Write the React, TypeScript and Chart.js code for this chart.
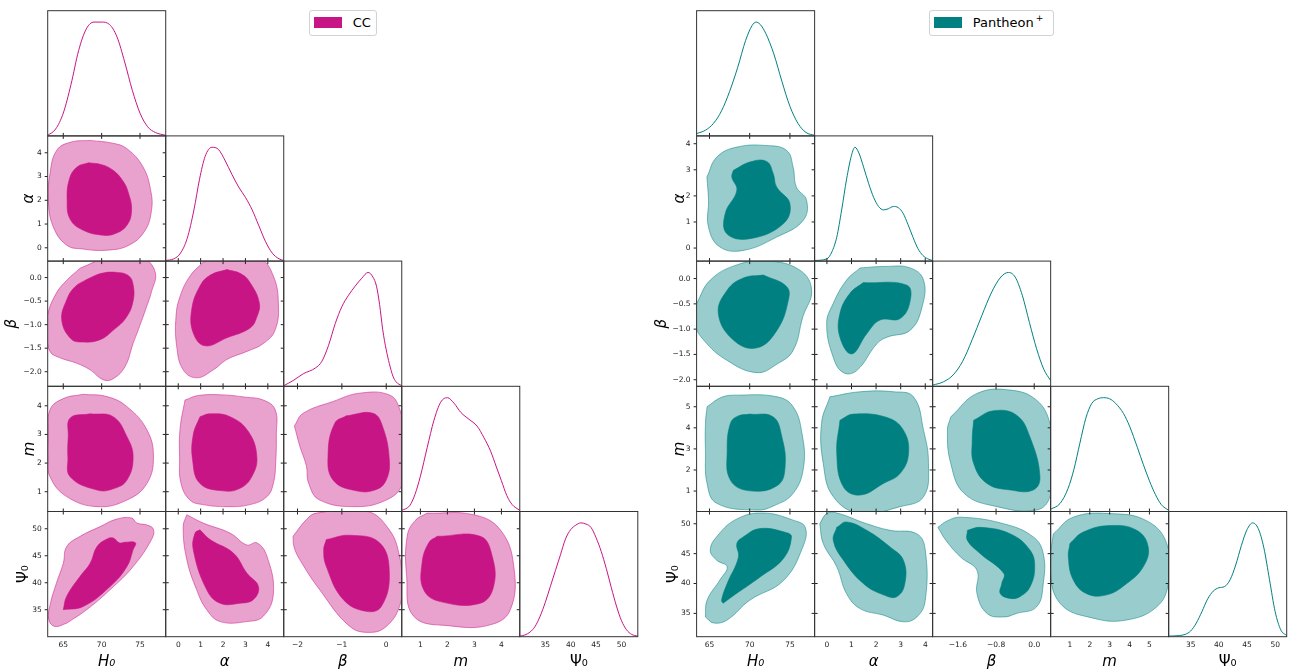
import React, { useEffect, useRef } from "react";
import { Chart, registerables } from "chart.js";

Chart.register(...registerables);

type Pt = [number, number];

// ---------------- labels ----------------
const PARAM_TITLES = ["H₀", "α", "β", "m", "Ψ₀"];
const PARAM_ITALIC = [true, true, true, true, false];
const LEGEND_CC = "CC";
const LEGEND_PP = "Pantheon";
const LEGEND_PP_SUP = "+";

// ---------------- CC : axes ----------------
const CC_RANGES: Pt[] = [[62.97, 78.35], [-0.56, 4.71], [-2.31, 0.35], [0.31, 4.68], [30.0, 53.2]];
const CC_X_TICKS = [[65, 70, 75], [0, 1, 2, 3, 4], [-2, -1, 0], [1, 2, 3, 4], [35, 40, 45, 50]];
const CC_X_LABELS = [["65", "70", "75"], ["0", "1", "2", "3", "4"], ["−2", "−1", "0"], ["1", "2", "3", "4"], ["35", "40", "45", "50"]];
const CC_Y_TICKS = [[65, 70, 75], [0, 1, 2, 3, 4], [-2, -1.5, -1, -0.5, 0], [1, 2, 3, 4], [35, 40, 45, 50]];
const CC_Y_LABELS = [["65", "70", "75"], ["0", "1", "2", "3", "4"], ["−2.0", "−1.5", "−1.0", "−0.5", "0.0"], ["1", "2", "3", "4"], ["35", "40", "45", "50"]];

// ---------------- CC : 1D posteriors ----------------
const CC_H0_PDF: Pt[] = [[62.97, 0.005], [64, 0.06], [65, 0.2], [66, 0.45], [67, 0.75], [68, 0.94], [69, 1.0], [70, 1.0], [71, 0.98], [72, 0.87], [73, 0.65], [74, 0.4], [75, 0.2], [76, 0.08], [77, 0.03], [78.35, 0.005]];
const CC_ALPHA_PDF: Pt[] = [[-0.56, 0.005], [-0.2, 0.02], [0.1, 0.07], [0.4, 0.2], [0.7, 0.45], [0.95, 0.72], [1.2, 0.92], [1.5, 1.0], [1.8, 0.98], [2.1, 0.88], [2.4, 0.76], [2.7, 0.65], [3.0, 0.56], [3.3, 0.45], [3.6, 0.31], [3.9, 0.17], [4.2, 0.07], [4.5, 0.02], [4.71, 0.005]];
const CC_BETA_PDF: Pt[] = [[-2.31, 0.005], [-2.1, 0.05], [-1.87, 0.11], [-1.6, 0.16], [-1.45, 0.22], [-1.3, 0.36], [-1.15, 0.55], [-1.0, 0.7], [-0.85, 0.8], [-0.7, 0.88], [-0.55, 0.95], [-0.41, 1.0], [-0.3, 0.96], [-0.22, 0.88], [-0.15, 0.72], [-0.08, 0.5], [0.0, 0.32], [0.07, 0.2], [0.15, 0.09], [0.22, 0.04], [0.35, 0.005]];
const CC_M_PDF: Pt[] = [[0.31, 0.01], [0.6, 0.05], [0.8, 0.15], [1.0, 0.31], [1.25, 0.56], [1.5, 0.8], [1.75, 0.96], [2.0, 1.0], [2.25, 0.95], [2.5, 0.87], [2.8, 0.81], [3.1, 0.75], [3.35, 0.65], [3.6, 0.53], [3.8, 0.4], [4.0, 0.27], [4.2, 0.14], [4.4, 0.06], [4.68, 0.01]];
const CC_PSI_PDF: Pt[] = [[30, 0.005], [31, 0.015], [32, 0.04], [33, 0.09], [34, 0.18], [35, 0.3], [36, 0.44], [37, 0.58], [38, 0.72], [39, 0.86], [40, 0.94], [41, 0.98], [42, 1.0], [43, 0.99], [44, 0.96], [45, 0.87], [46, 0.75], [47, 0.6], [48, 0.43], [49, 0.27], [50, 0.14], [51, 0.06], [52, 0.02], [53.2, 0.005]];

// ---------------- CC : 2D contours (68% inner, 95% outer) ----------------
const CC_ALPHA_H0_OUT: Pt[] = [[68.5, 4.52], [71.5, 4.4], [73.3, 4.17], [75.4, 3.4], [76.4, 2.4], [76.5, 1.58], [75.6, 0.7], [73.5, 0.1], [70.7, -0.1], [67.5, -0.05], [65.45, 0.11], [63.7, 0.88], [63.05, 2.0], [63.27, 3.12], [64.14, 4.1], [66, 4.45]];
const CC_ALPHA_H0_IN: Pt[] = [[68.3, 3.58], [70, 3.5], [71.5, 3.26], [72.8, 2.8], [73.5, 2.3], [73.9, 1.58], [73.3, 0.95], [71.8, 0.6], [70.2, 0.53], [67.6, 0.74], [65.9, 1.2], [65.5, 2.0], [65.8, 2.9], [66.8, 3.4]];
const CC_BETA_H0_OUT: Pt[] = [[67.2, 0.2], [70.5, 0.42], [73, 0.5], [75.5, 0.42], [77.0, 0.1], [76.5, -0.3], [75.9, -0.6], [74.8, -1.1], [74.1, -1.4], [73.05, -1.89], [71.5, -2.15], [70.2, -2.17], [68.5, -1.96], [66.75, -1.82], [64.5, -1.7], [63.27, -1.57], [62.9, -1.2], [62.95, -0.8], [64.1, -0.33], [65.5, -0.05]];
const CC_BETA_H0_IN: Pt[] = [[68.05, -0.04], [70, 0.09], [72, 0.11], [73.5, 0.04], [74.1, -0.15], [74.1, -0.5], [73.2, -0.85], [71.5, -1.12], [69.8, -1.32], [67.5, -1.37], [66.0, -1.3], [64.8, -0.9], [65.45, -0.47], [66.5, -0.2]];
const CC_M_H0_OUT: Pt[] = [[67.6, 4.4], [70.7, 4.32], [73.3, 3.97], [75.9, 3.16], [76.75, 2.22], [75.9, 1.29], [73.3, 0.71], [69.4, 0.48], [65.45, 0.83], [63.27, 1.52], [63.0, 2.2], [63.05, 2.92], [63.27, 3.86], [65, 4.25]];
const CC_M_H0_IN: Pt[] = [[68.5, 3.72], [71.5, 3.62], [73.3, 2.92], [74.1, 2.22], [73.3, 1.41], [71.5, 1.1], [69.4, 1.06], [65.9, 1.52], [65.6, 2.2], [65.65, 2.92], [65.9, 3.57]];
const CC_PSI_H0_OUT: Pt[] = [[65.45, 32.5], [68.05, 35], [71.1, 38.7], [74.1, 43], [76.5, 48], [76.75, 49.9], [75.9, 50.7], [74.6, 51.05], [73.9, 52.0], [71.97, 51.8], [69.8, 50.4], [67.2, 48.6], [65.45, 46.7], [65.0, 43.6], [64.1, 39.9], [63.3, 36], [63.1, 33.2], [63.9, 31.9]];
const CC_PSI_H0_IN: Pt[] = [[65.0, 35.0], [67.6, 35.6], [71.1, 39.3], [73.3, 43], [74.1, 46.1], [74.4, 47.4], [73.05, 47.5], [72.3, 47.4], [71.5, 48.3], [70.7, 48.1], [69.4, 46.7], [68.5, 43.6], [67.2, 41.2], [65.45, 37.5]];
const CC_BETA_ALPHA_OUT: Pt[] = [[1.12, 0.33], [2.4, 0.45], [3.66, 0.4], [4.25, 0.03], [4.47, -0.54], [4.33, -1.11], [3.8, -1.4], [3.06, -1.57], [2.17, -1.74], [1.57, -1.96], [0.82, -2.13], [0.22, -1.96], [-0.07, -1.46], [-0.1, -0.82], [0.08, -0.4], [0.52, 0.03]];
const CC_BETA_ALPHA_IN: Pt[] = [[2.17, 0.17], [2.8, 0.08], [3.21, -0.11], [3.62, -0.54], [3.5, -0.85], [3.21, -1.07], [2.17, -1.28], [1.19, -1.45], [0.67, -1.18], [0.6, -0.68], [0.97, -0.18], [1.42, 0.05]];
const CC_M_ALPHA_OUT: Pt[] = [[0.3, 4.2], [0.9, 4.36], [2.0, 4.38], [3.0, 4.3], [3.8, 4.2], [4.33, 3.86], [4.38, 3.0], [4.35, 2.0], [4.25, 1.3], [3.96, 0.83], [3.2, 0.55], [2.17, 0.48], [1.1, 0.55], [0.52, 0.71], [0.12, 1.3], [0.06, 2.2], [0.08, 3.2]];
const CC_M_ALPHA_IN: Pt[] = [[0.97, 3.62], [1.42, 3.72], [2.31, 3.62], [3.13, 3.1], [3.51, 2.22], [3.28, 1.52], [2.76, 1.12], [2.01, 1.03], [0.97, 1.29], [0.64, 2.11], [0.67, 3.0]];
const CC_M_BETA_OUT: Pt[] = [[-2.07, 3.3], [-1.87, 3.74], [-1.2, 4.15], [-0.6, 4.44], [0.07, 4.38], [0.3, 3.9], [0.4, 3.0], [0.42, 2.0], [0.35, 1.2], [0.0, 0.71], [-0.67, 0.48], [-1.5, 0.71], [-1.75, 1.3], [-1.8, 1.9], [-1.95, 2.6]];
const CC_M_BETA_IN: Pt[] = [[-0.9, 3.65], [-0.3, 3.74], [-0.08, 3.27], [0.07, 2.11], [0.0, 1.41], [-0.22, 1.08], [-0.67, 1.03], [-1.2, 1.41], [-1.31, 2.34], [-1.16, 3.39]];
const CC_PSI_ALPHA_OUT: Pt[] = [[0.38, 52.6], [1.12, 51.05], [2.31, 49.2], [3.06, 47.0], [3.51, 47.4], [3.96, 44.9], [4.25, 38.1], [3.8, 33.8], [3.06, 32.8], [1.87, 32.8], [1.27, 35.0], [0.82, 38.7], [0.38, 44.3], [0.22, 50.4]];
const CC_PSI_ALPHA_IN: Pt[] = [[0.97, 49.8], [1.42, 48.0], [2.46, 45.5], [3.06, 41.8], [3.58, 39.3], [3.36, 36.9], [2.76, 36.2], [1.87, 36.2], [1.27, 38.7], [0.67, 46.1], [0.75, 49.2]];
const CC_PSI_BETA_OUT: Pt[] = [[-2.1, 48.6], [-1.8, 51.7], [-1.57, 52.9], [-0.45, 53.3], [0.07, 49.8], [0.3, 44.9], [0.35, 40], [0.3, 35.6], [0.0, 31.9], [-0.37, 30.8], [-0.82, 31.9], [-1.5, 38.7], [-1.95, 44.3], [-2.08, 46.7]];
const CC_PSI_BETA_IN: Pt[] = [[-1.35, 48.0], [-0.82, 48.8], [-0.15, 47.4], [0.07, 41.8], [-0.11, 35.6], [-0.45, 34.7], [-0.97, 36.9], [-1.35, 43.0], [-1.41, 46.1]];
const CC_PSI_M_OUT: Pt[] = [[1.25, 52.9], [2.97, 52.6], [3.96, 49.8], [4.46, 43.0], [4.33, 35.0], [3.59, 32.2], [2.11, 32.0], [0.75, 33.8], [0.49, 41.2], [0.51, 48.6], [0.8, 51.5]];
const CC_PSI_M_IN: Pt[] = [[1.62, 48.6], [3.22, 48.6], [3.66, 44.9], [3.71, 39.3], [3.22, 36.2], [1.74, 36.5], [1.12, 38.7], [1.06, 43.6], [1.31, 47.4]];

// ---------------- Pantheon+ : axes ----------------
const PP_RANGES: Pt[] = [[63.4, 78.07], [-0.5, 4.3], [-2.13, 0.345], [0.03, 5.97], [31.1, 52.05]];
const PP_X_TICKS = [[65, 70, 75], [0, 1, 2, 3, 4], [-1.6, -0.8, 0], [1, 2, 3, 4, 5], [35, 40, 45, 50]];
const PP_X_LABELS = [["65", "70", "75"], ["0", "1", "2", "3", "4"], ["−1.6", "−0.8", "0.0"], ["1", "2", "3", "4", "5"], ["35", "40", "45", "50"]];
const PP_Y_TICKS = [[65, 70, 75], [0, 1, 2, 3, 4], [-2, -1.5, -1, -0.5, 0], [1, 2, 3, 4, 5], [35, 40, 45, 50]];
const PP_Y_LABELS = [["65", "70", "75"], ["0", "1", "2", "3", "4"], ["−2.0", "−1.5", "−1.0", "−0.5", "0.0"], ["1", "2", "3", "4", "5"], ["35", "40", "45", "50"]];

// ---------------- Pantheon+ : 1D posteriors ----------------
const PP_H0_PDF: Pt[] = [[63.4, 0.02], [64.5, 0.05], [65.5, 0.11], [66.5, 0.22], [67.5, 0.39], [68.5, 0.6], [69.5, 0.84], [70.3, 0.97], [70.8, 1.0], [71.3, 0.98], [72, 0.9], [73, 0.72], [74, 0.48], [75, 0.26], [76, 0.11], [77, 0.03], [78.07, 0.005]];
const PP_ALPHA_PDF: Pt[] = [[-0.5, 0.005], [0, 0.02], [0.2, 0.08], [0.4, 0.21], [0.6, 0.45], [0.8, 0.72], [1.0, 0.93], [1.14, 1.0], [1.3, 0.95], [1.5, 0.82], [1.7, 0.68], [1.9, 0.56], [2.1, 0.48], [2.3, 0.45], [2.5, 0.46], [2.7, 0.48], [2.9, 0.47], [3.1, 0.42], [3.3, 0.32], [3.5, 0.21], [3.7, 0.11], [3.9, 0.05], [4.1, 0.02], [4.3, 0.005]];
const PP_BETA_PDF: Pt[] = [[-2.13, 0.01], [-1.9, 0.04], [-1.7, 0.1], [-1.5, 0.22], [-1.3, 0.41], [-1.1, 0.62], [-0.9, 0.82], [-0.7, 0.96], [-0.54, 1.0], [-0.4, 0.96], [-0.25, 0.8], [-0.1, 0.56], [0.05, 0.33], [0.2, 0.15], [0.345, 0.05]];
const PP_M_PDF: Pt[] = [[0.03, 0.02], [0.5, 0.07], [0.9, 0.2], [1.2, 0.37], [1.5, 0.6], [1.8, 0.82], [2.1, 0.95], [2.4, 0.99], [2.7, 1.0], [3.0, 0.99], [3.3, 0.95], [3.7, 0.86], [4.0, 0.75], [4.4, 0.56], [4.7, 0.41], [5.0, 0.27], [5.3, 0.15], [5.6, 0.06], [5.97, 0.01]];
const PP_PSI_PDF: Pt[] = [[31.1, 0.005], [33, 0.01], [34, 0.02], [35, 0.05], [36, 0.12], [37, 0.22], [38, 0.33], [39, 0.4], [40, 0.43], [41, 0.44], [42, 0.5], [43, 0.63], [44, 0.8], [45, 0.94], [46, 1.0], [47, 0.95], [48, 0.78], [49, 0.5], [50, 0.22], [51, 0.06], [52.05, 0.01]];

// ---------------- Pantheon+ : 2D contours ----------------
const PP_ALPHA_H0_OUT: Pt[] = [[64.68, 2.72], [65.92, 3.49], [68.4, 3.87], [72.1, 3.93], [74.6, 3.74], [75.4, 3.1], [75.8, 2.34], [77.07, 1.83], [76.65, 1.06], [73.35, 0.42], [69.2, -0.09], [66.3, 0.04], [64.88, 0.8], [64.88, 1.83]];
const PP_ALPHA_H0_IN: Pt[] = [[67.97, 2.98], [70.04, 3.3], [72.1, 3.32], [72.93, 2.85], [73.35, 2.34], [75.0, 1.7], [74.17, 0.93], [70.04, 0.36], [67.16, 0.55], [66.95, 1.32], [68.4, 2.21], [67.78, 2.72]];
const PP_BETA_H0_OUT: Pt[] = [[63.4, -0.49], [65.1, -0.03], [68.4, 0.27], [72.1, 0.35], [76.2, 0.17], [77.7, -0.23], [76.6, -0.76], [75.4, -1.42], [73.4, -1.69], [70.9, -1.86], [67.2, -1.62], [64.3, -1.22], [63.2, -0.89]];
const PP_BETA_H0_IN: Pt[] = [[71.7, 0.07], [74.6, -0.16], [74.8, -0.43], [73.4, -1.02], [70.9, -1.37], [68.0, -1.22], [66.1, -0.69], [67.2, -0.23], [69.2, 0.01]];
const PP_M_H0_OUT: Pt[] = [[64.7, 5.0], [66.5, 5.45], [68.4, 5.55], [73.4, 5.47], [75.4, 5.0], [76.5, 3.73], [76.7, 2.15], [75.4, 0.89], [73, 0.3], [70.9, 0.1], [65.9, 0.42], [64.7, 1.36], [64.5, 2.94], [64.5, 4.2]];
const PP_M_H0_IN: Pt[] = [[70.0, 4.65], [72.9, 4.52], [74.0, 3.57], [74.4, 2.15], [73.5, 1.28], [70.0, 1.01], [67.6, 1.52], [67.2, 2.94], [67.6, 4.21], [68.5, 4.55]];
const PP_PSI_H0_OUT: Pt[] = [[64.5, 34.4], [65.5, 33.4], [67.2, 33.9], [70.0, 37.2], [74.2, 40.5], [76.6, 46.1], [76.9, 49.4], [75.4, 50.6], [71.7, 51.8], [68.4, 50.8], [66, 48], [65.1, 45.6], [65.9, 43.9], [67.2, 42.8], [66.3, 40.6], [64.7, 37.2]];
const PP_PSI_H0_IN: Pt[] = [[66.7, 36.7], [67.8, 37.8], [71.3, 41.1], [74.2, 44.2], [75.2, 47.8], [74.6, 48.5], [71.3, 49.2], [69.2, 47.8], [68.4, 46.7], [68.6, 44.4], [67.2, 40], [66.5, 37.2]];
const PP_BETA_ALPHA_OUT: Pt[] = [[1.35, 0.21], [2.4, 0.24], [3.39, 0.21], [3.93, -0.03], [3.87, -0.56], [3.39, -1.02], [2.44, -1.16], [2.03, -1.29], [1.21, -1.82], [0.67, -1.86], [0.26, -1.56], [-0.01, -0.89], [0.26, -0.49], [0.8, -0.03]];
const PP_BETA_ALPHA_IN: Pt[] = [[1.48, -0.08], [3.25, -0.13], [3.39, -0.43], [2.98, -0.79], [2.16, -0.82], [1.62, -1.09], [1.01, -1.49], [0.53, -1.16], [0.53, -0.69], [0.94, -0.29]];
const PP_M_ALPHA_OUT: Pt[] = [[0.12, 5.47], [1.35, 5.71], [2.71, 5.71], [3.52, 5.47], [3.93, 3.89], [4.13, 2.31], [3.93, 0.73], [2.98, 0.26], [1.35, -0.06], [0.26, 0.73], [-0.15, 2.31], [-0.22, 4.21]];
const PP_M_ALPHA_IN: Pt[] = [[0.53, 4.36], [1.07, 4.65], [2.44, 4.49], [3.11, 3.89], [3.32, 2.79], [2.98, 1.84], [2.3, 1.36], [1.35, 0.81], [0.67, 1.2], [0.4, 2.79]];
const PP_M_BETA_OUT: Pt[] = [[-1.75, 4.52], [-1.2, 5.63], [-0.5, 5.79], [0.05, 5.31], [0.33, 4.21], [0.4, 2.5], [0.33, 0.73], [0.05, 0.1], [-0.78, 0.26], [-1.47, 0.89], [-1.75, 2.31], [-1.82, 3.89]];
const PP_M_BETA_IN: Pt[] = [[-1.27, 4.36], [-0.85, 4.81], [-0.37, 4.6], [-0.09, 3.57], [0.12, 1.68], [-0.02, 1.05], [-0.5, 1.05], [-0.99, 1.36], [-1.27, 2.31], [-1.3, 3.42]];
const PP_PSI_ALPHA_OUT: Pt[] = [[-0.29, 50], [-0.01, 51.7], [0.4, 51.8], [1.62, 50], [2.57, 48.9], [3.66, 48.3], [4.0, 45.6], [4.0, 37.2], [3.66, 34.4], [3.11, 33.6], [2.3, 34.7], [1.35, 35.8], [0.8, 38.3], [0.4, 42.8], [-0.15, 46.7]];
const PP_PSI_ALPHA_IN: Pt[] = [[0.4, 49.4], [0.8, 50.3], [1.62, 48.9], [2.57, 46.1], [3.11, 43.9], [3.17, 40], [2.84, 37.8], [2.3, 38.1], [1.48, 40], [0.67, 43.9], [0.26, 47.2]];
const PP_PSI_BETA_OUT: Pt[] = [[-2.02, 49.4], [-1.82, 50.5], [-1.54, 51.1], [-0.64, 50], [-0.02, 47.8], [0.19, 45], [0.19, 40], [0.05, 36.1], [-0.37, 35], [-0.64, 34.4], [-0.99, 35], [-1.2, 38.3], [-1.2, 42.2], [-1.54, 44.4], [-1.85, 47.2]];
const PP_PSI_BETA_IN: Pt[] = [[-1.4, 48.9], [-1.13, 49.4], [-0.5, 48.3], [-0.09, 45.6], [0.01, 42.8], [-0.09, 39.4], [-0.3, 37.8], [-0.5, 37.5], [-0.71, 38.3], [-0.68, 40], [-0.64, 41.7], [-1.13, 45], [-1.4, 47.2]];
const PP_PSI_M_OUT: Pt[] = [[0.16, 48.3], [1.17, 51.1], [3.02, 51.7], [4.86, 50.5], [5.87, 46.7], [5.95, 40], [5.37, 36.1], [3.86, 33.9], [2.17, 34.2], [0.5, 36.7], [0.0, 42.8]];
const PP_PSI_M_IN: Pt[] = [[1.0, 46.7], [1.67, 48.6], [3.02, 49.7], [4.36, 48.9], [4.94, 46.1], [4.69, 42.8], [3.86, 40], [2.85, 38.1], [1.84, 38.3], [1.17, 40.6], [0.92, 44.4]];

const CC_PDFS = [CC_H0_PDF, CC_ALPHA_PDF, CC_BETA_PDF, CC_M_PDF, CC_PSI_PDF];
const PP_PDFS = [PP_H0_PDF, PP_ALPHA_PDF, PP_BETA_PDF, PP_M_PDF, PP_PSI_PDF];
const CC_CONTOURS: Record<string, Pt[][]> = {
  "1,0": [CC_ALPHA_H0_OUT, CC_ALPHA_H0_IN],
  "2,0": [CC_BETA_H0_OUT, CC_BETA_H0_IN],
  "3,0": [CC_M_H0_OUT, CC_M_H0_IN],
  "4,0": [CC_PSI_H0_OUT, CC_PSI_H0_IN],
  "2,1": [CC_BETA_ALPHA_OUT, CC_BETA_ALPHA_IN],
  "3,1": [CC_M_ALPHA_OUT, CC_M_ALPHA_IN],
  "4,1": [CC_PSI_ALPHA_OUT, CC_PSI_ALPHA_IN],
  "3,2": [CC_M_BETA_OUT, CC_M_BETA_IN],
  "4,2": [CC_PSI_BETA_OUT, CC_PSI_BETA_IN],
  "4,3": [CC_PSI_M_OUT, CC_PSI_M_IN],
};
const PP_CONTOURS: Record<string, Pt[][]> = {
  "1,0": [PP_ALPHA_H0_OUT, PP_ALPHA_H0_IN],
  "2,0": [PP_BETA_H0_OUT, PP_BETA_H0_IN],
  "3,0": [PP_M_H0_OUT, PP_M_H0_IN],
  "4,0": [PP_PSI_H0_OUT, PP_PSI_H0_IN],
  "2,1": [PP_BETA_ALPHA_OUT, PP_BETA_ALPHA_IN],
  "3,1": [PP_M_ALPHA_OUT, PP_M_ALPHA_IN],
  "4,1": [PP_PSI_ALPHA_OUT, PP_PSI_ALPHA_IN],
  "3,2": [PP_M_BETA_OUT, PP_M_BETA_IN],
  "4,2": [PP_PSI_BETA_OUT, PP_PSI_BETA_IN],
  "4,3": [PP_PSI_M_OUT, PP_PSI_M_IN],
};

// ---------------- layout & style ----------------
const PANEL_W = 118.02;
const PANEL_H = 125.2;
const GRID_TOP = 10.7;
const XAXIS_H = 34;
const FONT = "'DejaVu Sans', 'Liberation Sans', sans-serif";

const PLOTS = [
  {
    name: "cc", left: 47.7, ranges: CC_RANGES, xTicks: CC_X_TICKS, xLabels: CC_X_LABELS,
    yTicks: CC_Y_TICKS, yLabels: CC_Y_LABELS, pdfs: CC_PDFS, contours: CC_CONTOURS,
    yAxisW: [0, 27.2, 45, 26.7, 32.5],
    dark: "#C71585", light: "rgba(199,21,133,0.4)", edge: "rgba(199,21,133,0.5)",
  },
  {
    name: "pp", left: 696.6, ranges: PP_RANGES, xTicks: PP_X_TICKS, xLabels: PP_X_LABELS,
    yTicks: PP_Y_TICKS, yLabels: PP_Y_LABELS, pdfs: PP_PDFS, contours: PP_CONTOURS,
    yAxisW: [0, 25.8, 43.8, 25.5, 31.5],
    dark: "#008080", light: "rgba(0,128,128,0.4)", edge: "rgba(0,128,128,0.5)",
  },
];

const frameTicksPlugin = {
  id: "frameTicks",
  afterDraw(chart: any, _args: any, o: any) {
    const { ctx, chartArea: a } = chart;
    const sx = chart.scales.x;
    const sy = chart.scales.y;
    const L = 3;
    ctx.save();
    ctx.strokeStyle = "#222";
    ctx.lineWidth = 1;
    ctx.beginPath();
    for (const v of o.xTicks) {
      const x = sx.getPixelForValue(v);
      if (o.bottom) { ctx.moveTo(x, a.bottom); ctx.lineTo(x, a.bottom - L); }
      if (o.top) { ctx.moveTo(x, a.top); ctx.lineTo(x, a.top + L); }
    }
    for (const v of o.yTicks) {
      const y = sy.getPixelForValue(v);
      if (o.leftOut) { ctx.moveTo(a.left, y); ctx.lineTo(a.left - L, y); }
      else if (o.left) { ctx.moveTo(a.left, y); ctx.lineTo(a.left + L, y); }
      if (o.right) { ctx.moveTo(a.right, y); ctx.lineTo(a.right - L, y); }
    }
    ctx.stroke();
    ctx.strokeStyle = "#333";
    ctx.lineWidth = 1;
    ctx.strokeRect(a.left, a.top, a.right - a.left, a.bottom - a.top);
    ctx.restore();
  },
};

const toXY = (pts: Pt[]) => pts.map(([x, y]) => ({ x, y }));
const closed = (pts: Pt[]) => toXY([...pts, pts[0]]);

function buildSpecs() {
  const specs: any[] = [];
  for (const p of PLOTS) {
    for (let r = 0; r < 5; r++) {
      for (let c = 0; c <= r; c++) {
        const px = p.left + c * PANEL_W;
        const py = GRID_TOP + r * PANEL_H;
        const diag = r === c;
        const showX = r === 4;
        const showY = c === 0 && !diag;
        const yW = showY ? p.yAxisW[r] : 0;
        const xH = showX ? XAXIS_H : 0;
        const mL = showY ? yW : 2;
        const mB = showX ? XAXIS_H : 2;
        const cx = Math.floor(px - mL);
        const cy = Math.floor(py - 2);
        const cw = Math.ceil(px + PANEL_W + 2) - cx;
        const ch = Math.ceil(py + PANEL_H + mB) - cy;
        const pad = {
          left: px - cx - yW,
          top: py - cy,
          right: cx + cw - (px + PANEL_W),
          bottom: cy + ch - (py + PANEL_H) - xH,
        };
        specs.push({ key: `${p.name}-${r}-${c}`, p, r, c, diag, showX, showY, yW, xH, cx, cy, cw, ch, pad });
      }
    }
  }
  return specs;
}

function buildConfig(s: any) {
  const { p, r, c, diag, showX, showY, yW, xH, pad } = s;
  const datasets: any[] = [];
  if (diag) {
    datasets.push({
      data: toXY(p.pdfs[c]), borderColor: p.dark, borderWidth: 1, pointRadius: 0,
      fill: false, cubicInterpolationMode: "monotone", clip: 0,
    });
  } else {
    const [outer, inner] = p.contours[`${r},${c}`];
    const common = { pointRadius: 0, fill: "shape", tension: 0.42, clip: 0, capBezierPoints: false };
    datasets.push({ ...common, data: closed(inner), backgroundColor: p.dark, borderColor: p.dark, borderWidth: 0.6 });
    datasets.push({ ...common, data: closed(outer), backgroundColor: p.light, borderColor: p.edge, borderWidth: 1 });
  }
  const xTicks: number[] = p.xTicks[c];
  const xLabels: string[] = p.xLabels[c];
  const yTicks: number[] = diag ? [] : p.yTicks[r];
  const yLabels: string[] = diag ? [] : p.yLabels[r];
  const tickFont = { family: FONT, size: 7.5 };
  const titleFont = (i: number) => ({ family: FONT, size: 15, style: PARAM_ITALIC[i] ? "italic" : "normal", lineHeight: 1.2 });
  const noPad = (sc: any) => { sc.paddingTop = 0; sc.paddingBottom = 0; sc.paddingLeft = 0; sc.paddingRight = 0; };
  return {
    type: "line",
    data: { datasets },
    plugins: [frameTicksPlugin],
    options: {
      responsive: false,
      animation: false,
      events: [],
      devicePixelRatio: 1,
      layout: { padding: pad, autoPadding: false },
      plugins: {
        legend: { display: false },
        tooltip: { enabled: false },
        frameTicks: {
          xTicks, yTicks,
          bottom: r !== 4,
          top: !diag,
          left: !diag,
          leftOut: showY,
          right: !diag,
        },
      },
      scales: {
        x: {
          type: "linear",
          min: p.ranges[c][0],
          max: p.ranges[c][1],
          bounds: "data",
          display: showX,
          afterBuildTicks: (sc: any) => { sc.ticks = xTicks.map((v) => ({ value: v })); },
          afterFit: (sc: any) => { sc.height = xH; noPad(sc); },
          grid: { display: false, drawTicks: false },
          border: { display: false },
          ticks: {
            autoSkip: false, maxRotation: 0, minRotation: 0, padding: 4, color: "#222", font: tickFont,
            callback: (v: any) => xLabels[xTicks.indexOf(Number(v))] ?? "",
          },
          title: { display: showX, text: PARAM_TITLES[c], color: "#000", font: titleFont(c), padding: 0 },
        },
        y: {
          type: "linear",
          min: diag ? 0 : p.ranges[r][0],
          max: diag ? 1.1 : p.ranges[r][1],
          bounds: "data",
          display: showY,
          afterBuildTicks: (sc: any) => { sc.ticks = yTicks.map((v) => ({ value: v })); },
          afterFit: (sc: any) => { sc.width = yW; noPad(sc); },
          grid: { display: false, drawTicks: false },
          border: { display: false },
          ticks: {
            autoSkip: false, padding: 6, color: "#222", font: tickFont,
            callback: (v: any) => yLabels[yTicks.indexOf(Number(v))] ?? "",
          },
          title: { display: showY, text: PARAM_TITLES[r], color: "#000", font: titleFont(r), padding: 0 },
        },
      },
    },
  };
}

function Panel({ spec }: { spec: any }) {
  const ref = useRef<HTMLCanvasElement>(null);
  useEffect(() => {
    const chart = new Chart(ref.current as HTMLCanvasElement, buildConfig(spec) as any);
    return () => chart.destroy();
  }, [spec]);
  return (
    <canvas
      ref={ref}
      width={spec.cw}
      height={spec.ch}
      style={{ position: "absolute", left: spec.cx, top: spec.cy, width: spec.cw, height: spec.ch }}
    />
  );
}

function Legend({ left, width, color, children }: { left: number; width: number; color: string; children: any }) {
  return (
    <div
      style={{
        position: "absolute", left, top: 10, width, height: 25.7, boxSizing: "border-box",
        border: "1px solid #d2d2d2", borderRadius: 3, background: "#fff",
      }}
    >
      <div style={{ position: "absolute", left: 4, top: 5.7, width: 28, height: 11, background: color }} />
      <div
        style={{
          position: "absolute", left: 42.4, top: 3.7, lineHeight: "16px", fontSize: 13,
          fontFamily: FONT, color: "#000", whiteSpace: "nowrap",
        }}
      >
        {children}
      </div>
    </div>
  );
}

const SPECS = buildSpecs();

export default function App() {
  return (
    <div style={{ position: "absolute", left: 0, top: 0, width: 1293, height: 670, overflow: "hidden", background: "#fff" }}>
      {SPECS.map((s) => (
        <Panel key={s.key} spec={s} />
      ))}
      <Legend left={309.3} width={67.4} color={PLOTS[0].dark}>{LEGEND_CC}</Legend>
      <Legend left={929.3} width={124.7} color={PLOTS[1].dark}>
        {LEGEND_PP}
        <sup style={{ fontSize: 9, marginLeft: 2, verticalAlign: "6px", lineHeight: 0 }}>{LEGEND_PP_SUP}</sup>
      </Legend>
    </div>
  );
}
